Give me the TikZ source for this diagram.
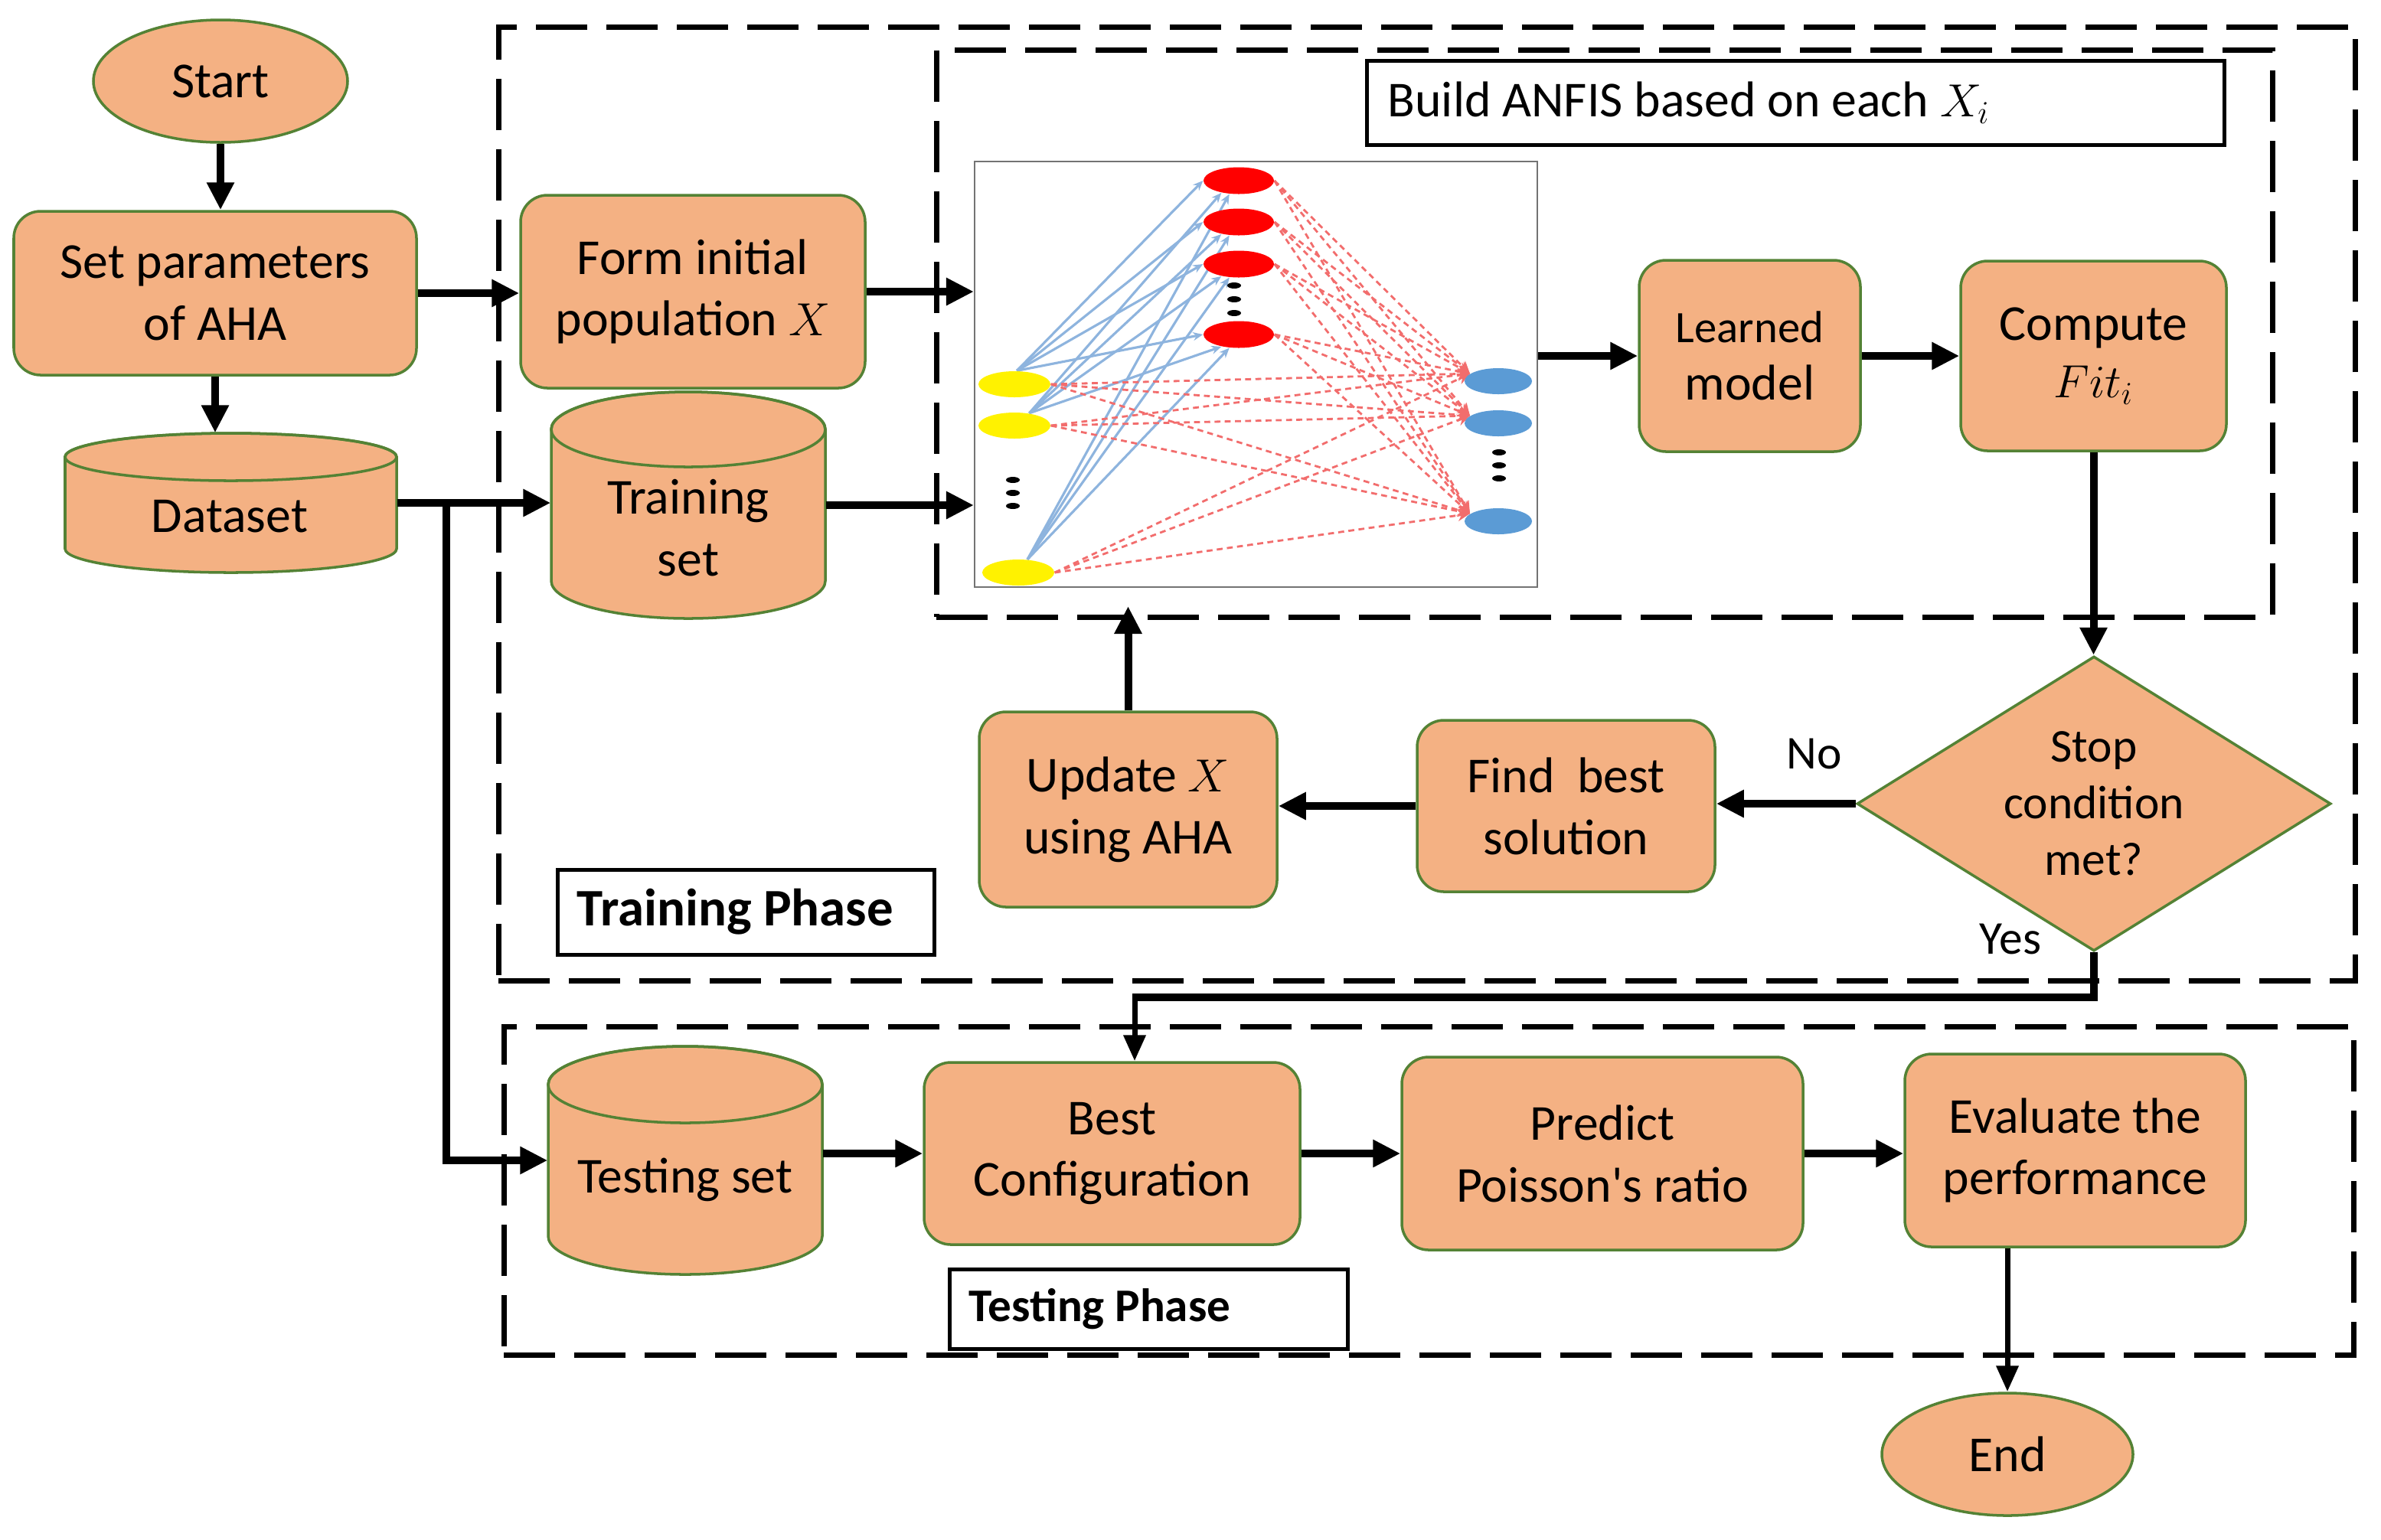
\documentclass[tikz,border=0pt]{standalone}
\usepackage{fontspec}
\setmainfont{Carlito}
\usetikzlibrary{arrows.meta,shapes.geometric}
\definecolor{boxfill}{HTML}{F4B183}
\definecolor{boxline}{HTML}{548235}
\definecolor{nodeblue}{HTML}{5B9BD5}
\definecolor{linkblue}{HTML}{8EB4DE}
\definecolor{linkred}{HTML}{F26D6D}
\newcommand\fmain{\fontsize{18.7}{23}\selectfont}
\newcommand\cyldraw[5]{%
  \filldraw[cylpart] (#1,{-(#3+#5)}) -- (#1,{-(#4-#5)})
     arc[start angle=180,end angle=360,x radius={(#2-#1)/2},y radius=#5]
     -- (#2,{-(#3+#5)})
     arc[start angle=0,end angle=180,x radius={(#2-#1)/2},y radius=#5] -- cycle;
  \draw[cylpart,fill=none] ({(#1+#2)/2},{-(#3+#5)}) ellipse[x radius={(#2-#1)/2},y radius=#5];
}
\pgfdeclarelayer{back}
\pgfsetlayers{back,main}
\begin{document}
\begin{tikzpicture}[
  proc/.style={draw=boxline, fill=boxfill, line width=1pt, rounded corners=0.35cm, align=center, inner sep=0pt, font=\fmain},
  term/.style={draw=boxline, fill=boxfill, line width=1pt, ellipse, inner sep=0pt, font=\fmain},
  cylpart/.style={draw=boxline, fill=boxfill, line width=1pt},
  anchorbox/.style={inner sep=0pt, draw=none},
  txt/.style={inner sep=0pt, align=center, font=\fmain},
  arr/.style={line width=0.1cm, -{Triangle[length=0.36cm,width=0.34cm]}},
  arrthin/.style={line width=0.07cm, -{Triangle[length=0.34cm,width=0.28cm]}},
  phaseframe/.style={draw=black, line width=0.07cm, dash pattern=on 0.67cm off 0.25cm, inner sep=0pt},
  tagbox/.style={draw=black, line width=0.05cm, fill=white, inner sep=0pt},
  neuron/.style={ellipse, inner sep=0pt, draw=none},
  dotnode/.style={ellipse, fill=black, inner sep=0pt, minimum width=0.18cm, minimum height=0.08cm},
  bluelink/.style={draw=linkblue, line width=0.9pt, -{Stealth[length=1.3mm,width=1.1mm]}},
  redlink/.style={draw=linkred, line width=0.8pt, dash pattern=on 2.2pt off 1.6pt, -{Stealth[length=1.6mm,width=1.5mm]}}
]
\useasboundingbox (0,0) rectangle (31.10,-20.11);

% frames
\node[phaseframe, minimum width=24.25cm, minimum height=12.46cm] (trainframe) at (18.635,-6.58) {};
\node[phaseframe, minimum width=17.45cm, minimum height=7.41cm] (innerframe) at (20.955,-4.355) {};
\node[phaseframe, minimum width=24.16cm, minimum height=4.29cm] (testframe) at (18.66,-15.555) {};

% left column
\node[term, minimum width=3.32cm, minimum height=1.60cm] (start) at (2.88,-1.06) {Start};
\node[proc, minimum width=5.26cm, minimum height=2.14cm] (setp) at (2.81,-3.83) {Set parameters\\of AHA};
\cyldraw{0.85}{5.18}{5.66}{7.48}{0.31}
\node[anchorbox, minimum width=4.33cm, minimum height=1.82cm] (dataset) at (3.015,-6.57) {};
\node[txt] (datasettxt) at (3.00,-6.75) {Dataset};

\node[proc, minimum width=4.50cm, minimum height=2.52cm] (form) at (9.05,-3.81) {Form initial\\population $X$};
\cyldraw{7.20}{10.78}{5.12}{8.08}{0.49}
\node[anchorbox, minimum width=3.58cm, minimum height=2.96cm] (train) at (8.99,-6.60) {};
\node[txt] (traintxt) at (8.99,-6.90) {Training\\set};

% build ANFIS
\node[tagbox, minimum width=11.20cm, minimum height=1.10cm] (build) at (23.45,-1.34) {};
\node[txt, anchor=west] (buildtxt) at (18.12,-1.34) {Build ANFIS based on each $X_i$};

% network picture
\node[draw=black!55, line width=0.6pt, minimum width=7.35cm, minimum height=5.56cm, inner sep=0pt] (net) at (16.405,-4.89) {};
\node[neuron, fill=yellow, minimum width=0.94cm, minimum height=0.34cm] (ya) at (13.25,-5.02) {};
\node[neuron, fill=yellow, minimum width=0.94cm, minimum height=0.34cm] (yb) at (13.25,-5.56) {};
\node[neuron, fill=yellow, minimum width=0.94cm, minimum height=0.34cm] (yc) at (13.30,-7.48) {};
\node[neuron, fill=red, minimum width=0.92cm, minimum height=0.35cm] (ra) at (16.18,-2.36) {};
\node[neuron, fill=red, minimum width=0.92cm, minimum height=0.35cm] (rb) at (16.18,-2.90) {};
\node[neuron, fill=red, minimum width=0.92cm, minimum height=0.35cm] (rc) at (16.18,-3.45) {};
\node[neuron, fill=red, minimum width=0.92cm, minimum height=0.35cm] (rd) at (16.18,-4.37) {};
\node[neuron, fill=nodeblue, minimum width=0.88cm, minimum height=0.34cm] (ba) at (19.57,-4.98) {};
\node[neuron, fill=nodeblue, minimum width=0.88cm, minimum height=0.34cm] (bb) at (19.57,-5.53) {};
\node[neuron, fill=nodeblue, minimum width=0.88cm, minimum height=0.34cm] (bc) at (19.57,-6.81) {};
\node[dotnode] (dl1) at (13.23,-6.27) {};
\node[dotnode] (dl2) at (13.23,-6.44) {};
\node[dotnode] (dl3) at (13.23,-6.61) {};
\node[dotnode] (dm1) at (16.12,-3.73) {};
\node[dotnode] (dm2) at (16.12,-3.91) {};
\node[dotnode] (dm3) at (16.12,-4.09) {};
\node[dotnode] (dr1) at (19.58,-5.91) {};
\node[dotnode] (dr2) at (19.58,-6.08) {};
\node[dotnode] (dr3) at (19.58,-6.25) {};
\begin{pgfonlayer}{back}
  \foreach \s/\sa/\ta in {ya/80/180, yb/40/215, yc/55/235} {
    \foreach \t in {ra,rb,rc,rd} {
      \draw[bluelink] (\s.\sa) -- (\t.\ta);
    }
  }
  \foreach \s in {ya,yb,yc,ra,rb,rc,rd} {
    \foreach \t in {ba,bb,bc} {
      \draw[redlink] (\s.east) -- (\t.165);
    }
  }
\end{pgfonlayer}

% right part of training phase
\node[proc, minimum width=2.89cm, minimum height=2.50cm, font=\fontsize{18.7}{21.3}\selectfont] (learned) at (22.855,-4.65) {{\fontsize{16.7}{20}\selectfont Learned}\\model};
\node[proc, minimum width=3.47cm, minimum height=2.48cm, font=\fontsize{18.7}{21.3}\selectfont] (compute) at (27.345,-4.65) {Compute\\$Fit_i$};
\node[diamond, draw=boxline, fill=boxfill, line width=1pt, minimum width=6.19cm, minimum height=3.85cm, inner sep=0pt] (stop) at (27.35,-10.50) {};
\node[txt, font=\fontsize{17.5}{21}\selectfont] (stoptxt) at (27.35,-10.50) {Stop\\condition\\met?};
\node[proc, minimum width=3.89cm, minimum height=2.24cm] (findbest) at (20.455,-10.53) {Find\ \ best\\solution};
\node[proc, minimum width=3.89cm, minimum height=2.55cm] (update) at (14.735,-10.575) {Update $X$\\using AHA};
\node[tagbox, minimum width=4.92cm, minimum height=1.11cm] (trainphase) at (9.74,-11.915) {};
\node[txt, anchor=west, font=\bfseries\fontsize{19.6}{23}\selectfont] (trainphasetxt) at (7.53,-11.915) {Training Phase};
\node[txt, font=\fontsize{17.5}{21}\selectfont] (nolbl) at (23.70,-9.85) {No};
\node[txt, font=\fontsize{17.5}{21}\selectfont] (yeslbl) at (26.26,-12.27) {Yes};

% testing phase
\cyldraw{7.16}{10.74}{13.67}{16.65}{0.50}
\node[anchorbox, minimum width=3.58cm, minimum height=2.98cm] (testset) at (8.95,-15.16) {};
\node[txt] (testsettxt) at (8.95,-15.41) {Testing set};
\node[proc, minimum width=4.91cm, minimum height=2.38cm] (bestconf) at (14.525,-15.07) {Best\\Configuration};
\node[proc, minimum width=5.24cm, minimum height=2.52cm] (predict) at (20.93,-15.07) {Predict\\Poisson\textquotesingle s ratio};
\node[proc, minimum width=4.45cm, minimum height=2.52cm] (evaluate) at (27.105,-15.03) {Evaluate the\\performance};
\node[tagbox, minimum width=5.20cm, minimum height=1.04cm] (testphase) at (15.00,-17.10) {};
\node[txt, anchor=west, font=\bfseries\fontsize{17.4}{21}\selectfont] (testphasetxt) at (12.65,-17.10) {Testing Phase};
\node[term, minimum width=3.28cm, minimum height=1.60cm] (end) at (26.22,-19.00) {End};

% connectors
\draw[arr] (start.south) -- (start.south |- setp.north);
\draw[arr] (setp.east) -- (setp.east -| form.west);
\draw[arr] (form.east) -- (form.east -| net.west);
\draw[arr] (setp.south) -- (setp.south |- dataset.north);
\draw[arr] (dataset.east) -- (dataset.east -| train.west);
\coordinate (split) at (5.83,-6.57);
\draw[arr] (split) |- (testset.west);
\draw[arr] (train.east) -- (train.east -| net.west);
\draw[arr] (net.east |- learned.west) -- (learned.west);
\draw[arr] (learned.east) -- (learned.east -| compute.west);
\draw[arr] (compute.south) -- (compute.south |- stop.north);
\draw[arr] (stop.west) -- (stop.west -| findbest.east);
\draw[arr] (findbest.west) -- (findbest.west -| update.east);
\coordinate (updtip) at (14.735,-7.92);
\draw[arr] (update.north) -- (updtip);
\coordinate (yesturn) at (14.82,-13.03);
\draw[line width=0.1cm] (stop.south) |- (yesturn);
\draw[arrthin] ([yshift=0.05cm]yesturn) -- (yesturn |- bestconf.north);
\draw[arr] (testset.east |- bestconf.west) -- (bestconf.west);
\draw[arr] (bestconf.east) -- (bestconf.east -| predict.west);
\draw[arr] (predict.east) -- (predict.east -| evaluate.west);
\draw[arrthin] (end.north |- evaluate.south) -- (end.north);
\end{tikzpicture}
\end{document}
